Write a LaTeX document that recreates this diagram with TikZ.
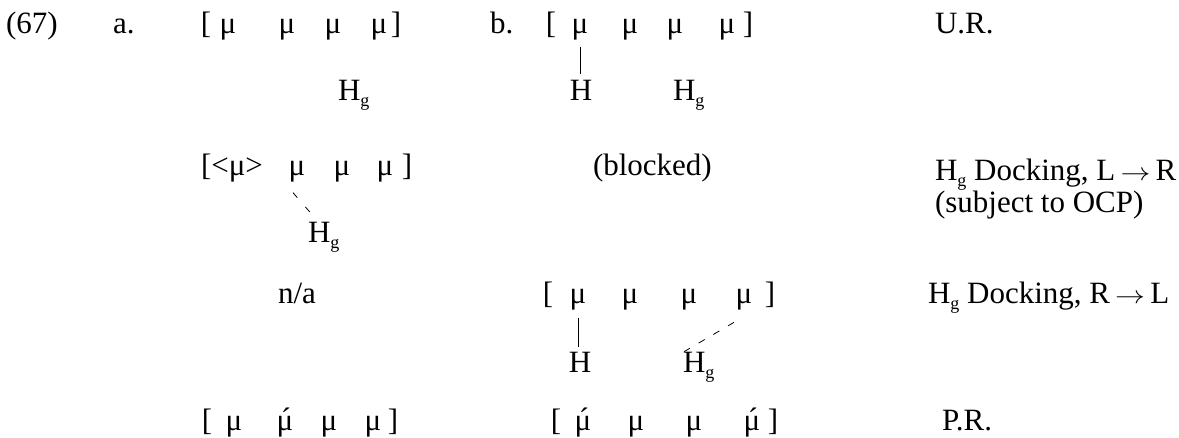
\documentclass[tikz,border=0pt]{standalone}
\usepackage{fontspec}
\usepackage{graphicx}
\setmainfont{Liberation Serif}
\newcommand{\sg}{\raisebox{-6pt}{\fontsize{18}{18}\selectfont g}}
\newcommand{\macc}{\ooalign{μ\cr\hidewidth\kern2pt\raisebox{1pt}{´}\hidewidth\cr}}
\newcommand{\rarr}{\,\scalebox{1.2}[1]{$\rightarrow$}\,}
\tikzset{
  t/.style={inner sep=0pt, outer sep=0pt, anchor=base, font=\fontsize{31}{31}\selectfont},
  tl/.style={t, anchor=base west},
  assoc/.style={line width=0.8pt},
  dassoc/.style={line width=0.8pt, dash pattern=on 7pt off 10pt},
}
\begin{document}
\begin{tikzpicture}[x=1pt,y=-1pt]
\useasboundingbox (0,0) rectangle (1179,437);
% ---- row 1: U.R.
\node[tl] (ex) at (6,33) {(67)};
\node[tl] (la) at (113,33) {a.};
\node[t] (a1l) at (206,33) {[};
\node[t] (a1m1) at (228,33) {μ};
\node[t] (a1m2) at (287,33) {μ};
\node[t] (a1m3) at (333,33) {μ};
\node[t] (a1m4) at (379,33) {μ};
\node[t] (a1r) at (396,33) {]};
\node[tl] (lb) at (490,33) {b.};
\node[t] (b1l) at (551,33) {[};
\node[t] (b1m1) at (580,33) {μ};
\node[t] (b1m2) at (630,33) {μ};
\node[t] (b1m3) at (675,33) {μ};
\node[t] (b1m4) at (727,33) {μ};
\node[t] (b1r) at (748,33) {]};
\node[tl] (ur) at (935,33) {U.R.};
% ---- row 2
\node[tl] (a2Hg) at (338,100) {H\sg};
\node[t] (b2H) at (581,100) {H};
\node[tl] (b2Hg) at (673,100) {H\sg};
\draw[assoc] ([yshift=-7pt]b1m1.south) -- ([yshift=6pt]b1m1.south |- b2H.north);
% ---- row 3: H_g docking L->R
\node[tl] (a3l) at (201,175) {[<μ>};
\node[t] (a3m2) at (297,175) {μ};
\node[t] (a3m3) at (342,175) {μ};
\node[t] (a3m4) at (385,175) {μ};
\node[t] (a3r) at (407,175) {]};
\node[tl] (blk) at (593,175) {(blocked)};
\node[tl] (r3a) at (935,180) {H\sg{} Docking, L\rarr R};
\node[tl] (r3b) at (935,212) {(subject to OCP)};
\node[tl] (a3Hg) at (308,242) {H\sg};
\draw[assoc, dash pattern=on 6.5pt off 12.5pt] ([xshift=-4pt,yshift=-11pt]a3m2.south) -- ([xshift=2pt,yshift=9.5pt]a3Hg.north west);
% ---- row 4: H_g docking R->L
\node[tl] (na) at (278,303) {n/a};
\node[t] (b4l) at (548,303) {[};
\node[t] (b4m1) at (578,303) {μ};
\node[t] (b4m2) at (630,303) {μ};
\node[t] (b4m3) at (689,303) {μ};
\node[t] (b4m4) at (744,303) {μ};
\node[t] (b4r) at (770,303) {]};
\node[tl] (r4) at (928,303) {H\sg{} Docking, R\rarr L};
% ---- row 5
\node[t] (b5H) at (580,372) {H};
\node[tl] (b5Hg) at (683,372) {H\sg};
\draw[assoc] ([yshift=-8pt]b4m1.south) -- ([yshift=5pt]b4m1.south |- b5H.north);
\draw[dassoc] ([xshift=1pt,yshift=0pt]b5Hg.north west) -- ([xshift=-2pt,yshift=-8pt]b4m4.south);
% ---- row 6: P.R.
\node[t] (a6l) at (207,430) {[};
\node[t] (a6m1) at (234,430) {μ};
\node[t] (a6m2) at (285,430) {\macc};
\node[t] (a6m3) at (329,430) {μ};
\node[t] (a6m4) at (373,430) {μ};
\node[t] (a6r) at (393,430) {]};
\node[t] (b6l) at (556,430) {[};
\node[t] (b6m1) at (583,430) {\macc};
\node[t] (b6m2) at (636,430) {μ};
\node[t] (b6m3) at (694,430) {μ};
\node[t] (b6m4) at (752,430) {\macc};
\node[t] (b6r) at (773,430) {]};
\node[tl] (pr) at (942,430) {P.R.};
\end{tikzpicture}
\end{document}
